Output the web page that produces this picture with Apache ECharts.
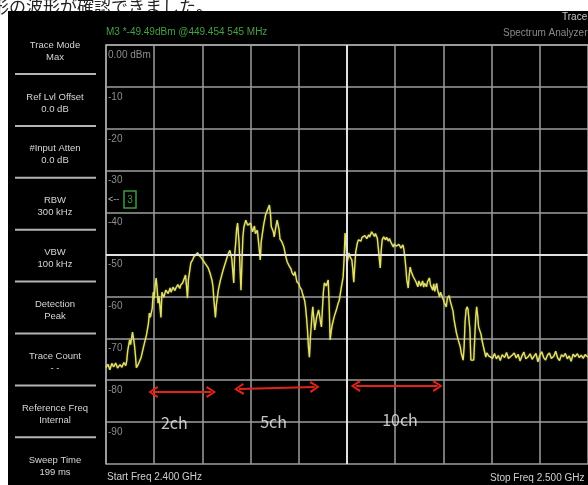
<!DOCTYPE html>
<html><head><meta charset="utf-8">
<script src="https://cdn.jsdelivr.net/npm/echarts@6/dist/echarts.min.js"></script>
<style>html,body{margin:0;padding:0;background:#fff}#c{width:588px;height:485px}</style>
</head><body><div id="c"></div>
<script>
// Frequency offset from Start Freq 2.400 GHz (MHz), span 100 MHz
const freqOffsetMHz = [
 0.0,0.4,0.8,1.2,1.6,2.0,2.4,2.9,3.3,3.7,
 4.1,4.3,4.5,4.9,5.1,5.5,5.7,5.9,6.1,6.3,
 6.7,7.3,7.8,8.4,8.8,9.0,9.2,9.6,9.8,10.0,
 10.2,10.4,10.6,10.8,11.0,11.4,11.6,12.0,12.4,12.9,
 13.3,13.5,13.9,14.3,14.5,14.9,15.3,15.5,15.9,16.1,
 16.5,16.7,16.9,17.1,17.6,18.0,18.2,18.6,19.0,19.2,
 19.4,19.8,20.2,20.6,21.2,21.6,22.0,22.2,22.4,22.7,
 22.9,23.3,23.7,24.3,24.9,25.3,25.7,26.1,26.5,26.7,
 26.9,27.1,27.3,27.6,27.8,28.0,28.2,28.4,28.6,29.0,
 29.4,29.8,30.0,30.4,30.8,31.0,31.4,31.6,32.0,32.2,
 32.7,32.9,33.1,33.5,33.9,34.1,34.3,34.7,34.9,35.3,
 35.5,35.9,36.1,36.5,36.9,37.3,37.6,38.0,38.4,38.6,
 39.0,39.2,39.6,40.0,40.2,40.6,40.8,41.2,41.4,41.6,
 41.8,42.0,42.2,42.4,42.7,42.9,43.1,43.3,43.7,44.1,
 44.3,44.5,44.7,44.9,45.1,45.3,45.7,46.1,46.3,46.5,
 46.7,46.9,47.3,47.8,48.2,48.4,48.8,49.2,49.4,49.6,
 49.8,50.0,50.2,50.4,50.6,51.0,51.2,51.4,51.6,51.8,
 52.0,52.2,52.4,52.9,53.1,53.5,53.7,54.1,54.5,54.7,
 55.1,55.5,55.7,55.9,56.3,56.5,56.7,56.9,57.1,57.3,
 57.6,58.0,58.2,58.6,58.8,59.2,59.4,59.6,59.8,60.2,
 60.6,60.8,61.2,61.6,61.8,62.0,62.2,62.4,62.7,62.9,
 63.1,63.3,63.7,64.1,64.3,64.7,64.9,65.3,65.7,65.9,
 66.1,66.5,66.7,67.1,67.3,67.8,68.0,68.2,68.6,68.8,
 69.2,69.4,69.8,70.0,70.2,70.6,70.8,71.2,71.4,71.8,
 72.0,72.2,72.7,73.1,73.5,73.7,74.1,74.3,74.5,74.7,
 74.9,75.1,75.3,75.5,75.7,76.1,76.3,76.5,76.7,76.9,
 77.1,77.3,77.8,78.0,78.4,78.8,79.0,79.4,79.8,80.2,
 80.6,81.0,81.4,81.8,82.2,82.7,83.1,83.5,83.9,84.3,
 84.7,85.1,85.5,85.9,86.3,86.7,87.1,87.6,88.0,88.4,
 88.8,89.2,89.6,90.0,90.4,90.8,91.2,91.6,92.0,92.4,
 92.9,93.3,93.7,94.1,94.5,94.9,95.3,95.7,96.1,96.5,
 96.9,97.3,97.8,98.2,98.6,99.0,99.4,99.8,100.0
];
// Max-hold trace level (dBm)
const traceDbm = [
 -77.0,-76.2,-77.5,-76.0,-76.8,-75.9,-77.1,-76.3,-76.9,-75.8,
 -76.5,-75.4,-73.0,-70.4,-71.5,-68.5,-70.0,-71.6,-74.0,-77.0,
 -76.2,-74.5,-72.0,-69.2,-66.5,-64.0,-65.0,-62.8,-59.0,-60.5,
 -57.5,-55.6,-58.0,-61.6,-60.0,-65.0,-59.0,-60.2,-58.5,-59.3,
 -58.0,-59.0,-57.8,-58.6,-58.0,-57.2,-58.1,-57.3,-56.8,-56.6,
 -54.9,-57.5,-60.4,-56.0,-52.0,-51.2,-50.6,-50.1,-49.6,-49.4,
 -50.3,-50.8,-51.5,-52.2,-53.2,-54.5,-56.2,-57.7,-61.0,-65.0,
 -62.0,-58.5,-56.3,-53.7,-51.5,-50.0,-49.0,-51.0,-56.8,-50.0,
 -47.3,-44.0,-42.5,-47.0,-53.0,-58.5,-52.0,-45.8,-43.5,-41.8,
 -43.0,-43.4,-42.5,-44.6,-43.2,-45.0,-44.2,-46.5,-51.3,-47.0,
 -43.0,-41.8,-40.6,-39.4,-38.2,-40.0,-43.4,-44.5,-45.8,-43.0,
 -41.8,-44.0,-46.3,-47.0,-48.2,-50.5,-51.8,-52.7,-53.5,-54.4,
 -55.0,-54.1,-56.5,-57.0,-57.7,-58.5,-59.5,-60.9,-62.5,-65.0,
 -68.0,-72.0,-74.5,-70.0,-65.0,-62.5,-65.0,-68.0,-65.0,-63.2,
 -64.5,-66.0,-67.3,-63.0,-59.0,-56.8,-57.5,-56.1,-62.0,-70.4,
 -68.5,-67.0,-65.0,-63.2,-61.5,-60.9,-58.0,-55.4,-51.0,-44.9,
 -47.5,-52.0,-51.0,-49.6,-50.5,-51.3,-53.5,-56.6,-53.0,-49.5,
 -48.2,-47.0,-46.5,-46.8,-45.9,-46.0,-45.5,-46.2,-45.3,-45.8,
 -44.6,-44.9,-45.7,-45.0,-46.2,-48.5,-51.0,-53.2,-49.0,-46.5,
 -45.8,-46.5,-45.9,-46.8,-46.2,-47.3,-47.0,-48.2,-47.5,-48.0,
 -48.4,-47.6,-48.5,-47.7,-48.8,-50.6,-53.0,-56.0,-58.0,-55.0,
 -53.0,-54.0,-55.2,-55.4,-56.5,-57.7,-56.3,-57.5,-56.3,-57.8,
 -56.9,-57.7,-56.5,-55.6,-57.2,-58.5,-57.0,-58.8,-56.9,-58.5,
 -60.1,-59.0,-59.2,-60.8,-61.5,-62.5,-60.5,-59.8,-61.0,-61.3,
 -63.5,-65.5,-68.7,-70.5,-72.0,-73.5,-75.2,-72.0,-66.0,-63.2,
 -62.5,-63.0,-62.8,-68.0,-75.2,-74.8,-75.2,-70.0,-65.0,-62.5,
 -64.5,-67.3,-69.0,-70.4,-72.5,-74.5,-73.5,-74.2,-74.0,-74.8,
 -73.6,-74.9,-74.1,-75.3,-73.9,-74.6,-73.4,-74.8,-75.1,-74.0,
 -73.5,-74.7,-73.8,-75.4,-74.2,-73.3,-74.9,-74.4,-73.7,-75.0,
 -74.3,-73.6,-75.6,-74.1,-73.2,-74.6,-75.2,-74.0,-73.5,-74.8,
 -74.3,-73.1,-74.7,-75.3,-73.9,-74.4,-73.6,-74.9,-74.2,-75.5,
 -73.8,-74.4,-73.7,-74.6,-74.0,-74.8,-73.9,-74.3,-74.5
];
const softkeyTitles = ['Trace Mode','Ref Lvl Offset','#Input Atten','RBW','VBW','Detection','Trace Count','Reference Freq','Sweep Time'];
const softkeyValues = ['Max','0.0 dB','0.0 dB','300 kHz','100 kHz','Peak','- -','Internal','199 ms'];
const arrowNames = ['2ch','5ch','10ch'];
const arrowFrom = [9.8, 27.6, 51.8];
const arrowTo = [21.8, 43.3, 68.8];
const arrowLevelFrom = [-82.8, -82.1, -81.4];
const arrowLevelTo = [-82.8, -81.6, -81.4];
const labelFreq = [11.4, 32.0, 57.3];
const labelLevel = [-90.2, -90.0, -89.5];
const markerText = 'M3 *-49.49dBm @449.454 545 MHz';
const startText = 'Start Freq 2.400 GHz';
const stopText = 'Stop Freq 2.500 GHz';

const chart = echarts.init(document.getElementById('c'), null, {renderer:'canvas'});
const font = '"Liberation Sans", Arial, sans-serif';
const graphics = [
  {type:'text', x:-8, y:15, style:{text:'形の波形が確認できました。', fill:'#222', font:'17px "Noto Sans CJK JP"', textVerticalAlign:'bottom'}, silent:true, z:-1},
  {type:'rect', shape:{x:8,y:11,width:580,height:474}, style:{fill:'#000'}, silent:true, z:-1},
  {type:'text', x:106, y:32, style:{text:markerText, fill:'#46a046', font:'10px '+font, textVerticalAlign:'middle'}, silent:true},
  {type:'text', x:562, y:17, style:{text:'Trace', fill:'#c8c8c8', font:'10px '+font, textVerticalAlign:'middle'}, silent:true},
  {type:'text', x:503, y:33, style:{text:'Spectrum Analyzer', fill:'#8a8a8a', font:'10px '+font, textVerticalAlign:'middle'}, silent:true},
  {type:'text', x:107, y:477, style:{text:startText, fill:'#cfcfcf', font:'10px '+font, textVerticalAlign:'middle'}, silent:true},
  {type:'text', x:490, y:478, style:{text:stopText, fill:'#cfcfcf', font:'10px '+font, textVerticalAlign:'middle'}, silent:true},
  {type:'text', x:108, y:200, style:{text:'<--', fill:'#bdbdbd', font:'9px '+font, textVerticalAlign:'middle'}, silent:true},
  {type:'rect', shape:{x:124,y:191,width:12,height:17}, style:{fill:'none', stroke:'#3c9a3c', lineWidth:1.5}, silent:true},
  {type:'text', x:130, y:200, style:{text:'3', fill:'#3c9a3c', font:'10px '+font, textAlign:'center', textVerticalAlign:'middle'}, silent:true}
];
softkeyTitles.forEach((t, i) => {
  const y0 = 45 + i * 51.9;
  graphics.push({type:'text', x:55, y:y0, style:{text:t, fill:'#d6d6d6', font:'9.5px '+font, textAlign:'center', textVerticalAlign:'middle'}, silent:true});
  graphics.push({type:'text', x:55, y:y0 + 12, style:{text:softkeyValues[i], fill:'#d6d6d6', font:'9.5px '+font, textAlign:'center', textVerticalAlign:'middle'}, silent:true});
  if (i < softkeyTitles.length - 1) {
    graphics.push({type:'line', shape:{x1:15, y1:y0 + 29, x2:96, y2:y0 + 29}, style:{stroke:'#b4b4b4', lineWidth:2}, silent:true});
  }
});

const chevron = 'path://M0,9 L6,0 L12,9 L10,10 L6,3.2 L2,10 Z';

chart.setOption({
  backgroundColor:'#fff',
  animation:false,
  grid:{left:106, top:45, width:490, height:419},
  xAxis:{type:'value', min:0, max:100, interval:10,
    axisLine:{show:true, lineStyle:{color:'#a8a8a8', width:1.5}},
    axisTick:{show:false}, axisLabel:{show:false},
    splitLine:{show:true, lineStyle:{color:'#9e9e9e', width:1.5}}},
  yAxis:{type:'value', min:-100, max:0, interval:10,
    axisLine:{show:true, lineStyle:{color:'#a8a8a8', width:1.5}},
    axisTick:{show:false},
    axisLabel:{show:true, inside:true, margin:2, verticalAlign:'top', padding:[5,0,0,0],
      color:'#8e8e8e', fontSize:10, fontFamily:font, showMinLabel:false, showMaxLabel:true,
      formatter: v => v === 0 ? '0.00 dBm' : String(v)},
    splitLine:{show:true, lineStyle:{color:'#9e9e9e', width:1.5}}},
  graphic: graphics,
  series:[
    {type:'line', name:'center', data:[], silent:true, z:1,
      markLine:{silent:true, symbol:'none', label:{show:false}, animation:false,
        lineStyle:{color:'#e2e2e2', width:2, type:'solid'},
        data:[{xAxis:50},{yAxis:-50}]}},
    {type:'line', name:'trace', silent:true, z:3, showSymbol:false, symbol:'none',
      data: freqOffsetMHz.map((f, i) => [f, traceDbm[i]]),
      lineStyle:{color:'#e4e06c', width:1.4, shadowColor:'rgba(220,220,90,0.45)', shadowBlur:2}},
    {type:'line', name:'arrows', data:[], silent:true, z:4,
      markLine:{silent:true, symbol:[chevron, chevron], symbolSize:[12,10], label:{show:false}, animation:false,
        lineStyle:{color:'#e3231b', width:2, type:'solid'},
        data: arrowNames.map((n, i) => [{coord:[arrowFrom[i], arrowLevelFrom[i]]}, {coord:[arrowTo[i], arrowLevelTo[i]]}])}},
    {type:'scatter', name:'labels', silent:true, z:5, symbolSize:0,
      data: arrowNames.map((n, i) => ({name:n, value:[labelFreq[i], labelLevel[i]]})),
      label:{show:true, position:'right', distance:0, formatter:'{b}', color:'#f4f4f4', fontSize:16, fontFamily:'"Noto Sans CJK JP", "Noto Sans", sans-serif'}}
  ]
});
</script></body></html>
